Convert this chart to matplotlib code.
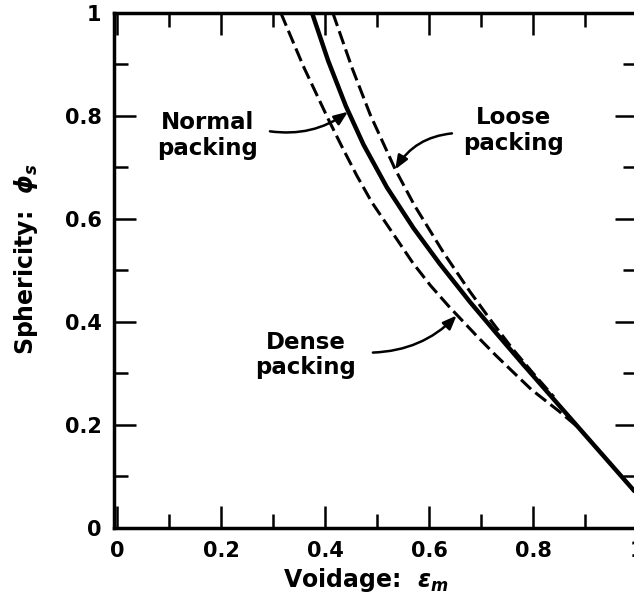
import matplotlib
matplotlib.use("Agg")
import matplotlib.pyplot as plt
from matplotlib.ticker import MultipleLocator, FuncFormatter

# ---- data ----
normal_x = [0.375, 0.406, 0.440, 0.474, 0.519, 0.570, 0.621, 0.679, 0.730, 0.781, 0.827, 0.900, 1.000]
normal_y = [1.000, 0.907, 0.819, 0.744, 0.661, 0.582, 0.512, 0.438, 0.377, 0.317, 0.264, 0.180, 0.065]

dense_x = [0.315, 0.358, 0.406, 0.432, 0.461, 0.490, 0.569, 0.603, 0.637, 0.692, 0.729, 0.769, 0.797, 0.850, 0.890]
dense_y = [1.000, 0.897, 0.794, 0.741, 0.684, 0.632, 0.514, 0.470, 0.431, 0.372, 0.334, 0.295, 0.268, 0.226, 0.192]

loose_x = [0.415, 0.452, 0.487, 0.535, 0.572, 0.628, 0.679, 0.720, 0.760, 0.800, 0.840]
loose_y = [1.000, 0.893, 0.802, 0.696, 0.626, 0.534, 0.458, 0.401, 0.348, 0.300, 0.254]

labels = ["Normal\npacking", "Loose\npacking", "Dense\npacking"]
label_pos = [(0.173, 0.762), (0.763, 0.771), (0.363, 0.335)]
arrow_from = [(0.294, 0.770), (0.644, 0.766), (0.492, 0.340)]
arrow_to = [(0.444, 0.808), (0.535, 0.696), (0.653, 0.412)]
arrow_rad = [0.2, 0.25, 0.2]

# ---- style ----
plt.rcParams["font.family"] = ["DejaVu Sans"]
plt.rcParams["font.weight"] = "bold"
plt.rcParams["axes.labelweight"] = "bold"
plt.rcParams["mathtext.fontset"] = "custom"
plt.rcParams["mathtext.it"] = "DejaVu Sans:bold:italic"
plt.rcParams["mathtext.rm"] = "DejaVu Sans:bold"
plt.rcParams["mathtext.bf"] = "DejaVu Sans:bold"

W, H = 634, 616
fig = plt.figure(figsize=(W / 100, H / 100), dpi=100)
ax = fig.add_axes([114 / W, 88.5 / H, 523 / W, 514.5 / H])

ax.set_xlim(-0.006, 1.0)
ax.set_ylim(0, 1.0)

dash = (0, (4.5, 1.8))
ax.plot(dense_x, dense_y, color="black", lw=2.2, ls=dash, dash_capstyle="butt")
ax.plot(loose_x, loose_y, color="black", lw=2.2, ls=dash, dash_capstyle="butt")
ax.plot(normal_x, normal_y, color="black", lw=3.2, solid_capstyle="butt")

for txt, tp, af, at, rad in zip(labels, label_pos, arrow_from, arrow_to, arrow_rad):
    ax.text(tp[0], tp[1], txt, ha="center", va="center", fontsize=16.5,
            fontweight="bold", linespacing=1.15)
    ax.annotate("", xy=at, xytext=af,
                arrowprops=dict(arrowstyle="-|>,head_length=0.55,head_width=0.22",
                                connectionstyle=f"arc3,rad={rad}", color="black",
                                lw=1.8, shrinkA=0, shrinkB=0, mutation_scale=15))

fmt = FuncFormatter(lambda v, p: "0" if abs(v) < 1e-9 else ("1" if abs(v - 1) < 1e-9 else f"{v:.1f}"))
for axis in (ax.xaxis, ax.yaxis):
    axis.set_major_locator(MultipleLocator(0.2))
    axis.set_minor_locator(MultipleLocator(0.1))
    axis.set_major_formatter(fmt)

ax.tick_params(which="both", direction="in", top=True, right=True, width=1.8,
               labelsize=15)
ax.tick_params(which="major", length=16)
ax.tick_params(which="minor", length=10)
ax.tick_params(axis="x", pad=10)
ax.tick_params(axis="y", pad=9)
for s in ax.spines.values():
    s.set_linewidth(2.5)

ax.set_xlabel(r"Voidage:  $\varepsilon_m$", fontsize=17)
ax.set_ylabel(r"Sphericity:  $\phi_s$", fontsize=17)
ax.xaxis.set_label_coords(0.482, -0.074)
ax.yaxis.set_label_coords(-0.142, 0.521)

fig.savefig("out.png", dpi=100)
